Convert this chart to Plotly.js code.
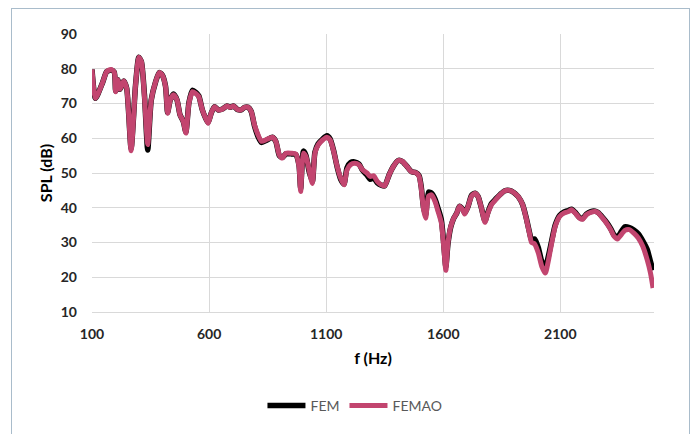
<!DOCTYPE html>
<html>
<head>
<meta charset="utf-8">
<script src="https://cdn.plot.ly/plotly-3.0.1.min.js"></script>
<style>
html,body{margin:0;padding:0;background:#fff;}
#frame{position:absolute;left:11px;top:8px;width:679px;height:440px;border:1.5px solid #a9bccb;box-sizing:border-box;}
#chart{position:absolute;left:0;top:0;width:696px;height:434px;}
</style>
</head>
<body>
<div id="frame"></div>
<div id="chart"></div>
<script>
const freq = [100,115,144,163,182,195,201,210,220,235,248,267,286,300,311,324,338,353,372,387,400,414,423,434,448,463,476,490,501,514,529,543,556,571,585,596,609,623,638,657,676,691,704,723,737,752,767,780,794,809,824,847,870,885,900,913,928,951,970,984,991,1003,1014,1027,1041,1052,1066,1085,1103,1117,1132,1147,1162,1176,1189,1204,1221,1240,1255,1274,1288,1303,1318,1335,1350,1369,1388,1407,1426,1445,1464,1483,1497,1506,1516,1525,1537,1550,1565,1578,1592,1603,1611,1620,1632,1645,1658,1669,1683,1692,1706,1721,1736,1749,1763,1778,1791,1806,1825,1844,1863,1882,1901,1920,1939,1954,1968,1977,1990,2006,2021,2036,2047,2063,2078,2097,2116,2135,2148,2163,2182,2195,2211,2230,2249,2262,2281,2300,2315,2329,2344,2357,2376,2395,2414,2433,2452,2471,2485,2496];
const femao = [79.8,71.5,75.8,79.2,79.8,79,73.4,76.8,74.1,76.5,74.4,56.4,75.3,83.3,82,72,58.2,71,76.3,78.9,78.2,74.9,67.2,71,72.5,71,66.7,64.8,61.5,70.1,73.4,72.9,72,68.2,65.8,64.3,67.2,69.1,68.2,68.4,69.3,68.9,69.3,68.2,68.2,68.9,68.9,67.7,63.8,61,59.1,59.7,60.3,59.1,55.2,54.3,55.7,55.7,55.5,51.9,44.7,55.7,54.7,50.9,47,55.7,58.1,59.5,60.3,59.5,56.2,51.9,48.5,46.6,50.9,52.4,52.8,52.4,50.9,50,49,49.2,47.6,46.6,46.3,49.5,52,53.6,53.3,51.9,50.4,50.1,49,45.6,39.4,37,43.3,43.7,41.8,38.9,35.6,27.9,22,29.8,34.6,37,38.5,40.4,39.4,38.2,40.4,43.4,44.2,43.2,39.9,35.8,38.5,40.9,42.4,43.8,44.9,45,44.4,43.2,40.9,37,32.7,30,29.6,27,23.1,21.2,24.1,29.8,34.6,37.5,38.5,38.9,39.4,38.5,37,36.7,38,38.7,38.9,38.5,37,35.3,33.7,31.8,31,32,33.5,33.7,32.7,31.3,28.9,25,21.2,16.9];
const fem = [79.8,71.5,75.8,79.2,79.6,79,73.6,76.8,74.1,76.5,74.4,57,75.3,83.3,82,72.5,56.6,71,76.3,78.9,78.2,75,67.4,71,72.7,71,66.7,64.8,61.8,70.3,73.8,73.2,72.2,68.2,65.8,64.5,67.2,69.1,68.2,68.4,69.3,68.9,69.3,68.2,68.2,68.9,68.9,67.7,63.5,60.5,58.8,59.5,60.3,59.1,55,54.5,55.5,55.5,55.3,52.3,45.5,56.3,55,50.5,47.5,56,58.4,59.8,60.7,59.8,56.4,51.7,48.2,46.8,51.5,53,53.2,52.6,50.8,49.4,48.2,48.6,47.2,46.5,46.3,49.5,52,53.6,53.3,51.9,50.4,50.1,49.2,46,40,38,44.5,44.2,42.5,39.8,36.5,29,23,29.5,34.4,37,38.5,40.4,39.6,38.5,40.4,43.6,44.2,43.2,39.9,36.2,38.8,41.2,42.6,43.9,44.9,45,44.4,43.2,40.9,37.2,33,30.8,31,28.5,24.5,23,25.5,30.5,35,37.8,38.8,39.2,39.6,38.7,37.2,36.9,38.2,38.9,39,38.6,37.2,35.6,34,32.2,31.5,32.8,34.5,34.3,33.6,32.5,30.5,28,24.5,22];
const xTicks = [100,600,1100,1600,2100];
const yTicks = [10,20,30,40,50,60,70,80,90];

const FAM = 'Lato, "Open Sans", sans-serif';
const tickFont = {family:FAM, size:14, color:'#262626', weight:'bold'};

Plotly.newPlot('chart', [
  {x:freq, y:fem, name:'FEM', type:'scatter', mode:'lines', line:{color:'#000000', width:5.5, shape:'spline', smoothing:0.6}},
  {x:freq, y:femao, name:'FEMAO', type:'scatter', mode:'lines', line:{color:'#c2456f', width:5, shape:'spline', smoothing:0.6}}
], {
  width:696, height:434,
  paper_bgcolor:'rgba(0,0,0,0)', plot_bgcolor:'rgba(0,0,0,0)',
  margin:{l:92, r:42, t:34, b:122},
  showlegend:true,
  legend:{orientation:'h', xref:'container', x:0.51, xanchor:'center', yref:'container', y:0.065, yanchor:'middle',
    font:{family:FAM, size:14, color:'#595959'}, itemwidth:38, tracegroupgap:0},
  xaxis:{range:[100,2500], tickvals:xTicks, ticktext:xTicks.map(String), showgrid:true, gridcolor:'#d9d9d9', gridwidth:1,
    zeroline:false, showline:true, linecolor:'#d9d9d9', linewidth:1, ticks:'', tickfont:tickFont, ticklabelstandoff:9,
    title:{text:'f (Hz)', font:{family:FAM, size:16, color:'#000', weight:'bold'}, standoff:12}},
  yaxis:{range:[10,90], tickvals:yTicks, showgrid:true, gridcolor:'#d9d9d9', gridwidth:1, zeroline:false,
    showline:false, ticks:'', tickfont:tickFont, ticklabelstandoff:14,
    title:{text:'SPL (dB)', font:{family:FAM, size:16, color:'#000', weight:'bold'}, standoff:4}}
}, {displayModeBar:false, staticPlot:true});
</script>
</body>
</html>
